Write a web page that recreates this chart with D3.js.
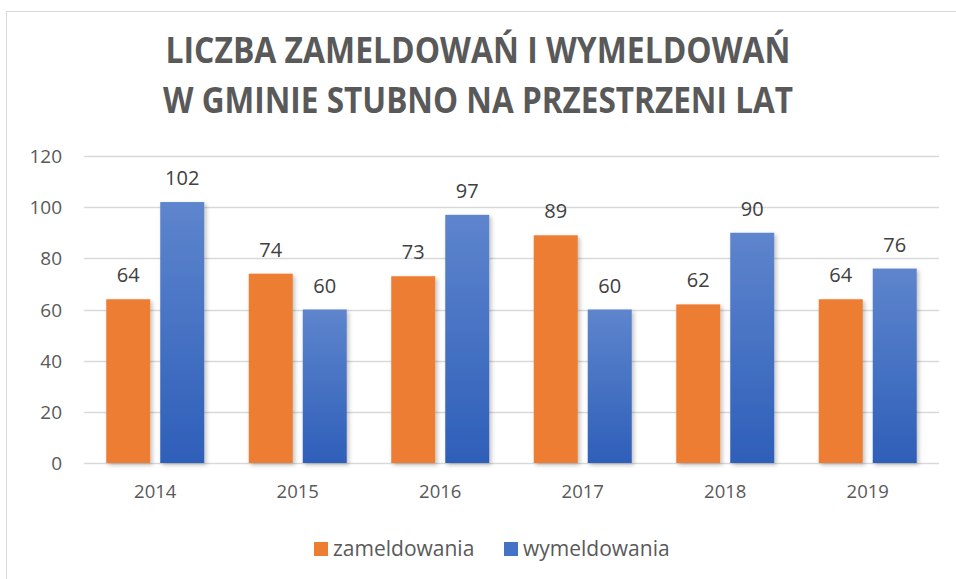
<!DOCTYPE html>
<html><head><meta charset="utf-8">
<script src="https://cdn.jsdelivr.net/npm/d3@7"></script>
<style>body{margin:0;background:#fff}svg{display:block}</style>
</head><body><svg id="c" width="956" height="579"></svg>
<script>
const years = ["2014","2015","2016","2017","2018","2019"];
const seriesNames = ["zameldowania","wymeldowania"];
const zameldowania = [64,74,73,89,62,64];
const wymeldowania = [102,60,97,60,90,76];
const yTicks = [0,20,40,60,80,100,120];
const titleLines = ["LICZBA ZAMELDOWAŃ I WYMELDOWAŃ","W GMINIE STUBNO NA PRZESTRZENI LAT"];

const svg = d3.select("#c");
const font = "'Open Sans', sans-serif";
const defs = svg.append("defs");
const g1 = defs.append("linearGradient").attr("id","blueGrad").attr("x1",0).attr("y1",0).attr("x2",0).attr("y2",1);
g1.append("stop").attr("offset","0%").attr("stop-color","#5E85CD");
g1.append("stop").attr("offset","100%").attr("stop-color","#2E5FB9");
const f = defs.append("filter").attr("id","sh").attr("x","-20%").attr("y","-10%").attr("width","150%").attr("height","130%");
f.append("feDropShadow").attr("dx",2).attr("dy",2).attr("stdDeviation",2).attr("flood-color","#000").attr("flood-opacity",0.25);

// border
svg.append("rect").attr("x",6.5).attr("y",11.5).attr("width",960).attr("height",600)
  .attr("fill","none").attr("stroke","#d9d9d9").attr("stroke-width",1);

// title
svg.selectAll("text.title").data(titleLines).join("text").attr("class","title")
  .attr("x",478).attr("y",(d,i)=>63+i*50).attr("text-anchor","middle")
  .attr("font-family",font).attr("font-weight",700).attr("font-size",36)
  .attr("fill","#595959")
  .attr("textLength",(d,i)=>i===0?625:630).attr("lengthAdjust","spacingAndGlyphs")
  .text(d=>d);

const y = d3.scaleLinear().domain([0,120]).range([463,156]);
const x = d3.scaleBand().domain(years).range([84,939]);
const xs = d3.scaleBand().domain(seriesNames).range([22.25,120.25]).paddingInner(0.185);

// gridlines
svg.append("g").selectAll("line").data(yTicks).join("line")
  .attr("x1",84).attr("x2",939).attr("y1",d=>Math.round(y(d))+0.5).attr("y2",d=>Math.round(y(d))+0.5)
  .attr("stroke","#d9d9d9").attr("stroke-width",1.3);

// y axis labels
const yAxis = d3.axisLeft(y).tickValues(yTicks).tickSize(0).tickPadding(0);
const ya = svg.append("g").attr("transform","translate(62,0)").call(yAxis);
ya.select(".domain").remove();
ya.selectAll("text").attr("font-family",font).attr("font-size",19).attr("fill","#595959").attr("dy","0.35em");

// x axis labels
const xAxis = d3.axisBottom(x).tickSize(0).tickPadding(0);
const xa = svg.append("g").attr("transform","translate(0,485)").call(xAxis);
xa.select(".domain").remove();
xa.selectAll("text").attr("font-family",font).attr("font-size",18.5).attr("fill","#595959").attr("dy","0.7em");

const data = years.map((yr,i)=>({yr, vals:[{s:seriesNames[0],v:zameldowania[i]},{s:seriesNames[1],v:wymeldowania[i]}]}));
const colors = {zameldowania:"#ED7D31", wymeldowania:"url(#blueGrad)"};

const grp = svg.append("g").selectAll("g").data(data).join("g")
  .attr("transform",d=>`translate(${x(d.yr)},0)`);
grp.selectAll("rect").data(d=>d.vals).join("rect")
  .attr("x",d=>xs(d.s)).attr("width",xs.bandwidth())
  .attr("y",d=>y(d.v)).attr("height",d=>y(0)-y(d.v))
  .attr("fill",d=>colors[d.s]).attr("filter","url(#sh)");
grp.selectAll("text").data(d=>d.vals).join("text")
  .attr("x",d=>xs(d.s)+xs.bandwidth()/2).attr("y",d=>y(d.v)-17)
  .attr("text-anchor","middle").attr("font-family",font).attr("font-size",20).attr("fill","#404040")
  .text(d=>d.v);

// legend
const leg = [{s:"zameldowania",x:314,c:"#ED7D31"},{s:"wymeldowania",x:504,c:"#4472C4"}];
const lg = svg.append("g").selectAll("g").data(leg).join("g").attr("transform",d=>`translate(${d.x},542)`);
lg.append("rect").attr("width",14).attr("height",14).attr("fill",d=>d.c);
lg.append("text").attr("x",19).attr("y",14).attr("font-family",font).attr("font-size",21).attr("fill","#595959").text(d=>d.s);
</script></body></html>
